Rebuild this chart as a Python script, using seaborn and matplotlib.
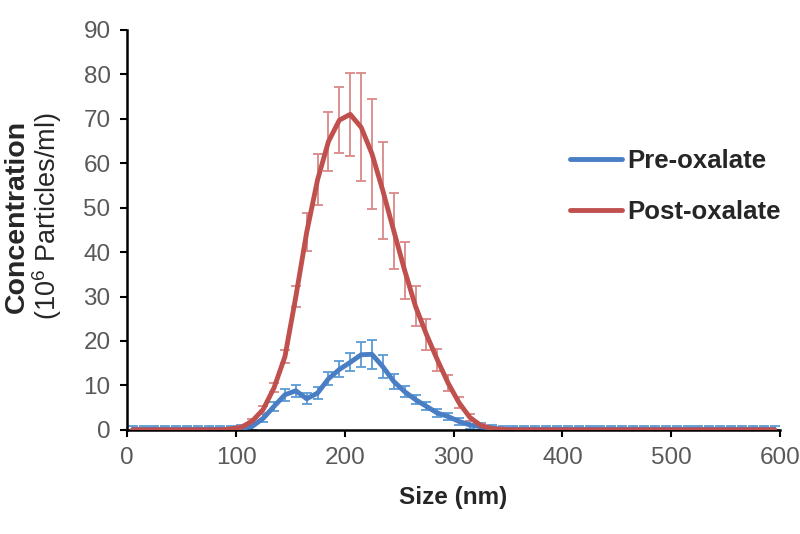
import numpy as np
import pandas as pd
import matplotlib
matplotlib.use('Agg')
import matplotlib.pyplot as plt
import seaborn as sns

# %% dados (bins de 10 nm)
tamanho = [5, 15, 25, 35, 45, 55, 65, 75, 85, 95,
           105, 115, 125, 135, 145, 155, 165, 175, 185, 195,
           205, 215, 225, 235, 245, 255, 265, 275, 285, 295,
           305, 315, 325, 335, 345, 355, 365, 375, 385, 395,
           405, 415, 425, 435, 445, 455, 465, 475, 485, 495,
           505, 515, 525, 535, 545, 555, 565, 575, 585, 595]

pos_media = [0, 0, 0, 0, 0, 0, 0, 0, 0, 0.2,
             0.6, 2.0, 4.6, 9.5, 16.5, 30.0, 44.5, 56.3, 64.9, 69.7,
             71.0, 68.1, 62.1, 53.8, 44.8, 35.9, 27.8, 21.5, 15.8, 10.5,
             6.1, 2.8, 1.0, 0.3, 0.1, 0, 0, 0, 0, 0,
             0, 0, 0, 0, 0, 0, 0, 0, 0, 0,
             0, 0, 0, 0, 0, 0, 0, 0, 0, 0]
pos_erro = [0, 0, 0, 0, 0, 0, 0, 0, 0, 0.1,
            0.2, 0.5, 0.7, 1.0, 1.4, 2.3, 4.3, 5.7, 6.6, 7.5,
            9.4, 12.1, 12.4, 10.9, 8.5, 6.4, 4.5, 3.5, 2.5, 1.8,
            1.2, 0.8, 0.4, 0.2, 0.1, 0, 0, 0, 0, 0,
            0, 0, 0, 0, 0, 0, 0, 0, 0, 0,
            0, 0, 0, 0, 0, 0, 0, 0, 0, 0]

pre_media = [0.1, 0.1, 0.1, 0.1, 0.1, 0.1, 0.1, 0.1, 0.1, 0.1,
             0.3, 0.8, 2.6, 5.3, 7.9, 8.8, 7.0, 8.3, 11.5, 13.6,
             15.2, 16.9, 17.0, 14.2, 10.9, 8.6, 6.8, 5.3, 3.8, 3.0,
             1.9, 1.1, 0.7, 0.4, 0.1, 0.1, 0.1, 0.1, 0.1, 0.1,
             0.1, 0.1, 0.1, 0.1, 0.1, 0.1, 0.1, 0.1, 0.1, 0.1,
             0.1, 0.1, 0.1, 0.1, 0.1, 0.1, 0.1, 0.1, 0.1, 0.1]
pre_erro = [0.8, 0.8, 0.8, 0.8, 0.8, 0.8, 0.8, 0.8, 0.8, 0.8,
            0.8, 0.8, 0.9, 1.0, 1.3, 1.4, 1.2, 1.4, 1.5, 1.8,
            2.0, 2.8, 3.2, 2.6, 1.6, 1.2, 1.0, 0.9, 0.9, 0.8,
            0.8, 0.8, 0.8, 0.8, 0.8, 0.8, 0.8, 0.8, 0.8, 0.8,
            0.8, 0.8, 0.8, 0.8, 0.8, 0.8, 0.8, 0.8, 0.8, 0.8,
            0.8, 0.8, 0.8, 0.8, 0.8, 0.8, 0.8, 0.8, 0.8, 0.8]

df = pd.DataFrame({
    'Size': tamanho * 2,
    'Conc': pre_media + pos_media,
    'Amostra': ['Pre-oxalate'] * len(tamanho) + ['Post-oxalate'] * len(tamanho),
})

# %%
sns.set_style('white')
plt.rcParams['font.family'] = ['Liberation Sans', 'DejaVu Sans']
plt.rcParams['mathtext.fontset'] = 'custom'
plt.rcParams['mathtext.rm'] = 'Liberation Sans'

azul = '#4a7ec4'
vermelho = '#c0504d'

fig = plt.figure(figsize=(8, 5.34), dpi=100)
ax = fig.add_axes([0.159, 0.195, 0.816, 0.749])

ax.errorbar(tamanho, pre_media, yerr=pre_erro, fmt='none', ecolor='#5b9bd5',
            elinewidth=1.3, capsize=3.5, capthick=1.3, zorder=2)
ax.errorbar(tamanho, pos_media, yerr=pos_erro, fmt='none', ecolor='#d98886',
            elinewidth=1.3, capsize=3.5, capthick=1.3, zorder=2)

sns.lineplot(data=df, x='Size', y='Conc', hue='Amostra',
             palette={'Pre-oxalate': azul, 'Post-oxalate': vermelho},
             linewidth=3.5, ax=ax, zorder=3)

ax.set_xlim(0, 600)
ax.set_ylim(0, 90)
ax.set_xticks(range(0, 601, 100))
ax.set_yticks(range(0, 91, 10))
ax.tick_params(axis='both', direction='out', length=5, width=1.5, color='black',
               labelsize=17.5, labelcolor='#595959', left=True, bottom=True)
ax.tick_params(axis='x', pad=7.5)
ax.tick_params(axis='y', pad=7)
for lado in ['top', 'right']:
    ax.spines[lado].set_visible(False)
for lado in ['left', 'bottom']:
    ax.spines[lado].set_color('black')
    ax.spines[lado].set_linewidth(1.8)

ax.set_xlabel('Size (nm)', fontsize=17.5, fontweight='bold')
ax.xaxis.set_label_coords(0.5, -0.14)
ax.set_ylabel('')
fig.text(0.021, 0.5955, 'Concentration', rotation=90, fontsize=20.5,
         fontweight='bold', ha='center', va='center')
fig.text(0.059, 0.5955, '(10$^{6}$ Particles/ml)', rotation=90, fontsize=19.5,
         ha='center', va='center')

leg = ax.legend(loc='center left', bbox_to_anchor=(0.678, 0.609), frameon=False,
                handlelength=2.05, handletextpad=0.2, labelspacing=1.05,
                borderpad=0, borderaxespad=0,
                prop={'size': 18.5, 'weight': 'bold'})
for linha in leg.get_lines():
    linha.set_linewidth(3.5)

fig.savefig('out.png', dpi=100)
